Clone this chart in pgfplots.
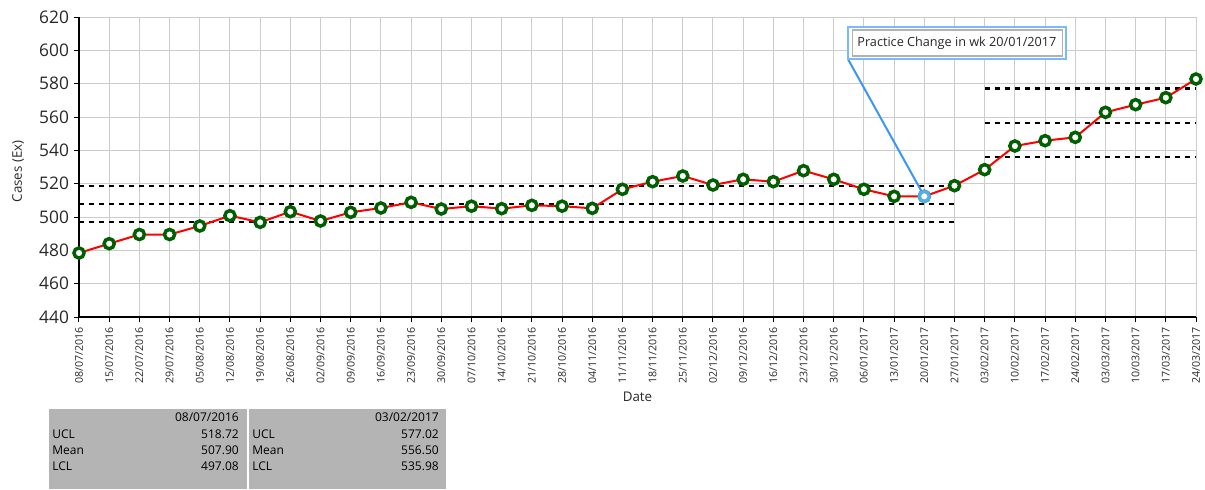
\documentclass[border=0pt]{standalone}
\usepackage{fontspec}
\setmainfont{Open Sans}
\usepackage{pgfplots}
\pgfplotsset{compat=1.18}
\definecolor{ringgreen}{RGB}{0,95,0}
\definecolor{callout}{RGB}{60,150,245}
\definecolor{boxblue}{RGB}{120,185,255}
\definecolor{tablegray}{RGB}{180,180,180}
\definecolor{txt}{RGB}{40,40,40}

\begin{document}
\begin{tikzpicture}
\begin{axis}[
    at={(0,0)}, anchor=north west,
    scale only axis, width=837.75pt, height=225pt,
    xmin=0, xmax=37, ymin=440, ymax=620,
    xtick={0,...,37},
    xticklabels={08/07/2016,15/07/2016,22/07/2016,29/07/2016,05/08/2016,12/08/2016,
        19/08/2016,26/08/2016,02/09/2016,09/09/2016,16/09/2016,23/09/2016,30/09/2016,
        07/10/2016,14/10/2016,21/10/2016,28/10/2016,04/11/2016,11/11/2016,18/11/2016,
        25/11/2016,02/12/2016,09/12/2016,16/12/2016,23/12/2016,30/12/2016,06/01/2017,
        13/01/2017,20/01/2017,27/01/2017,03/02/2017,10/02/2017,17/02/2017,24/02/2017,
        03/03/2017,10/03/2017,17/03/2017,24/03/2017},
    ytick={440,460,...,620},
    grid=major, grid style={gray!40, line width=0.75pt},
    axis lines=left, axis line style={-, line width=2.2pt, black},
    tick align=outside, major tick length=4pt, tick style={black, line width=0.75pt},
    x tick label style={rotate=90, anchor=east, font=\fontsize{8}{9}\selectfont, text=txt},
    y tick label style={font=\fontsize{13}{14}\selectfont, text=txt},
    /pgf/number format/assume math mode=true,
    xlabel={Date}, ylabel={Cases (Ex)},
    label style={font=\fontsize{10}{12}\selectfont, text=txt},
    xlabel style={at={(axis description cs:0.5,-0.267)}, anchor=center},
    ylabel style={at={(axis description cs:-0.0546,0.485)}, anchor=center, rotate=0},
    clip=false,
]
% control limits, first period
\addplot[black, line width=1.8pt, dash pattern=on 4pt off 3.5pt] coordinates {(0,518.72) (29,518.72)};
\addplot[black, line width=1.8pt, dash pattern=on 4pt off 3.5pt] coordinates {(0,507.90) (29,507.90)};
\addplot[black, line width=1.8pt, dash pattern=on 4pt off 3.5pt] coordinates {(0,497.08) (29,497.08)};
% control limits, second period
\addplot[black, line width=1.8pt, dash pattern=on 4pt off 3.5pt] coordinates {(30,577.02) (37,577.02)};
\addplot[black, line width=1.8pt, dash pattern=on 4pt off 3.5pt] coordinates {(30,556.50) (37,556.50)};
\addplot[black, line width=1.8pt, dash pattern=on 4pt off 3.5pt] coordinates {(30,535.98) (37,535.98)};

% callout line
\draw[callout, line width=1.5pt] (axis cs:25.47,594.8) -- (axis cs:28,512.4);

% weekly cases
\addplot[red, line width=1.5pt,
    mark=*, mark size=3.8pt,
    mark options={fill=white, draw=ringgreen, line width=2.6pt}]
coordinates {
(0,478.4) (1,484) (2,489.5) (3,489.5) (4,494.6) (5,500.8) (6,496.8) (7,503.2)
(8,497.6) (9,502.8) (10,505.4) (11,508.8) (12,504.8) (13,506.5) (14,505)
(15,507) (16,506.5) (17,505.2) (18,516.6) (19,521.2) (20,524.6) (21,519.2)
(22,522.6) (23,521.2) (24,527.8) (25,522.6) (26,516.6) (27,512.4) (28,512.4)
(29,518.8) (30,528.4) (31,542.6) (32,545.8) (33,547.8) (34,562.8) (35,567.4)
(36,571.6) (37,582.8)
};
% highlighted point
\addplot[only marks, mark=*, mark size=3.8pt,
    mark options={fill=white, draw=cyan!80!blue!70!white, line width=2.6pt}]
coordinates {(28,512.4)};

% annotation box
\draw[boxblue, line width=1.3pt, fill=white] (axis cs:25.47,614) rectangle (axis cs:32.69,594.8);
\draw[gray!60, line width=0.9pt] (axis cs:25.61,612.2) rectangle (axis cs:32.59,596.6);
\node[font=\fontsize{9.5}{11}\selectfont, text=txt] at (axis cs:29.08,604.4) {Practice Change in wk 20/01/2017};
\end{axis}

% summary tables
\fill[tablegray] (-22.5pt,-294pt) rectangle (126pt,-354pt);
\fill[tablegray] (127.5pt,-294pt) rectangle (275.25pt,-354pt);
\begin{scope}[every node/.style={font=\fontsize{9}{10}\selectfont, text=black, inner sep=0pt}]
\node[anchor=east] at (120pt,-300pt) {08/07/2016};
\node[anchor=west] at (-20.25pt,-312.75pt) {UCL};
\node[anchor=west] at (-20.25pt,-324.75pt) {Mean};
\node[anchor=west] at (-20.25pt,-336.75pt) {LCL};
\node[anchor=east] at (120pt,-312.75pt) {518.72};
\node[anchor=east] at (120pt,-324.75pt) {507.90};
\node[anchor=east] at (120pt,-336.75pt) {497.08};
\node[anchor=east] at (270pt,-300pt) {03/02/2017};
\node[anchor=west] at (129.75pt,-312.75pt) {UCL};
\node[anchor=west] at (129.75pt,-324.75pt) {Mean};
\node[anchor=west] at (129.75pt,-336.75pt) {LCL};
\node[anchor=east] at (270pt,-312.75pt) {577.02};
\node[anchor=east] at (270pt,-324.75pt) {556.50};
\node[anchor=east] at (270pt,-336.75pt) {535.98};
\end{scope}

\path (-59.25pt,12.75pt) rectangle (844.5pt,-354pt);
\end{tikzpicture}
\end{document}
